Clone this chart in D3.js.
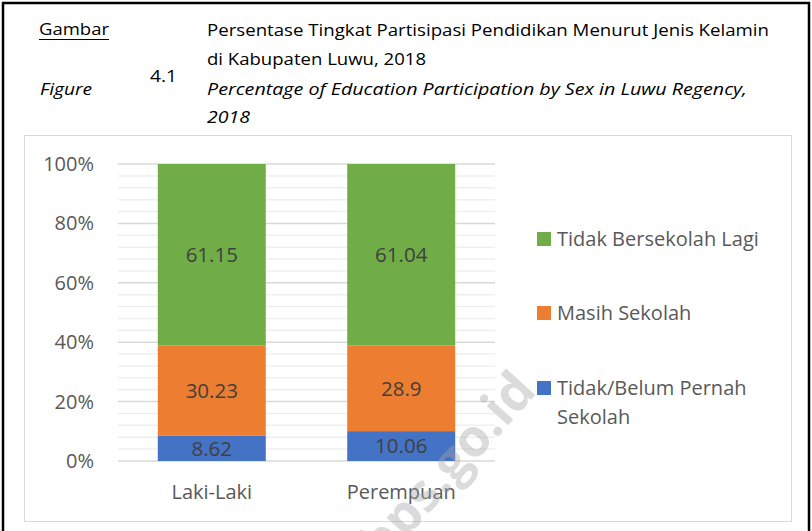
<!DOCTYPE html>
<html>
<head>
<meta charset="utf-8">
<script src="https://cdn.jsdelivr.net/npm/d3@7"></script>
<style>
  body { margin: 0; background: #fff; }
  svg { display: block; font-family: 'Open Sans', sans-serif; }
</style>
</head>
<body>
<div id="chart"></div>
<script>
var categories = ['Laki-Laki', 'Perempuan'];
var tidakPernah = [8.62, 10.06];
var masihSekolah = [30.23, 28.9];
var tidakLagi = [61.15, 61.04];
var yTicks = [0, 20, 40, 60, 80, 100];
var legendItems = [
  { key: 'tidakLagi', lines: ['Tidak Bersekolah Lagi'] },
  { key: 'masih', lines: ['Masih Sekolah'] },
  { key: 'pernah', lines: ['Tidak/Belum Pernah', 'Sekolah'] }
];

var colors = { pernah: '#4472C4', masih: '#ED7D31', tidakLagi: '#70AD47' };
var keys = ['pernah', 'masih', 'tidakLagi'];

var rows = categories.map(function(c, i) {
  return { cat: c, pernah: tidakPernah[i], masih: masihSekolah[i], tidakLagi: tidakLagi[i] };
});

var W = 812, H = 531;
var svg = d3.select('#chart').append('svg').attr('width', W).attr('height', H);

// outer frame and chart area box
svg.append('rect').attr('x', 3).attr('y', 3).attr('width', 806).attr('height', 560)
  .attr('fill', 'none').attr('stroke', '#000').attr('stroke-width', 2.5);
svg.append('rect').attr('x', 24.5).attr('y', 135.5).attr('width', 767).attr('height', 386)
  .attr('fill', 'none').attr('stroke', '#d9d9d9').attr('stroke-width', 1);

// header texts
function headText(str, x, y, w, italic) {
  var t = svg.append('text').attr('x', x).attr('y', y).text(str)
    .attr('font-size', 15.5).attr('fill', '#000')
    .attr('font-style', italic ? 'italic' : 'normal');
  if (w) t.attr('textLength', w).attr('lengthAdjust', 'spacingAndGlyphs');
  return t;
}
headText('Gambar', 39, 35, 70, false);
svg.append('line').attr('x1', 39).attr('x2', 109).attr('y1', 39.5).attr('y2', 39.5)
  .attr('stroke', '#000').attr('stroke-width', 1);
headText('Persentase Tingkat Partisipasi Pendidikan Menurut Jenis Kelamin', 207, 36, 562, false);
headText('di Kabupaten Luwu, 2018', 207, 65, 219, false);
headText('4.1', 150, 82, 27, false);
headText('Figure', 40, 95, 52, true);
headText('Percentage of Education Participation by Sex in Luwu Regency,', 207, 95, 540, true);
headText('2018', 207, 123, 43, true);

// scales
var x = d3.scaleBand().domain(categories).range([118, 495]).paddingInner(0.43).paddingOuter(0.21);
var y = d3.scaleLinear().domain([0, 100]).range([461, 164]);

// minor and major gridlines
var minor = d3.range(0, 101, 4).filter(function(v) { return v % 20 !== 0; });
svg.append('g').selectAll('line').data(minor).enter().append('line')
  .attr('x1', 118).attr('x2', 495).attr('y1', y).attr('y2', y)
  .attr('stroke', '#efefef').attr('stroke-width', 1.5);
svg.append('g').selectAll('line').data(yTicks).enter().append('line')
  .attr('x1', 118).attr('x2', 495).attr('y1', y).attr('y2', y)
  .attr('stroke', '#d9d9d9').attr('stroke-width', 1.5);

// y axis labels
var yAxis = d3.axisLeft(y).tickValues(yTicks).tickSize(0).tickPadding(0)
  .tickFormat(function(d) { return d + '%'; });
var ya = svg.append('g').attr('transform', 'translate(94,0)').call(yAxis);
ya.select('.domain').remove();
ya.selectAll('text').attr('font-family', 'Open Sans').attr('font-size', 20).attr('fill', '#595959');

// stacked bars
var stacked = d3.stack().keys(keys)(rows);
var layers = svg.append('g').selectAll('g').data(stacked).enter().append('g')
  .attr('fill', function(d) { return colors[d.key]; });
layers.selectAll('rect').data(function(d) { return d; }).enter().append('rect')
  .attr('x', function(d) { return x(d.data.cat); })
  .attr('width', x.bandwidth())
  .attr('y', function(d) { return y(d[1]); })
  .attr('height', function(d) { return y(d[0]) - y(d[1]); });

// value labels
layers.each(function(layer) {
  d3.select(this).selectAll('text').data(layer).enter().append('text')
    .attr('x', function(d) { return x(d.data.cat) + x.bandwidth() / 2; })
    .attr('y', function(d) { return (y(d[0]) + y(d[1])) / 2; })
    .attr('dy', '0.36em').attr('text-anchor', 'middle')
    .attr('font-size', 20.5).attr('fill', '#404040')
    .text(function(d) { return String(d.data[layer.key]); });
});

// x labels
var xAxis = d3.axisBottom(x).tickSize(0).tickPadding(0);
var xa = svg.append('g').attr('transform', 'translate(0,499)').call(xAxis);
xa.select('.domain').remove();
xa.selectAll('text').attr('dy', 0).attr('font-family', 'Open Sans').attr('font-size', 20).attr('fill', '#595959');

// legend
var legendY = [239, 313, 388];
var lg = svg.append('g').selectAll('g').data(legendItems).enter().append('g')
  .attr('transform', function(d, i) { return 'translate(537,' + legendY[i] + ')'; });
lg.append('rect').attr('x', 0).attr('y', -7).attr('width', 14).attr('height', 14)
  .attr('fill', function(d) { return colors[d.key]; });
lg.append('text').attr('x', 20).attr('font-size', 20).attr('fill', '#595959')
  .selectAll('tspan').data(function(d) { return d.lines; }).enter().append('tspan')
  .attr('x', 20).attr('y', function(d, i) { return i * 29; }).attr('dy', '0.36em')
  .text(function(d) { return d; });

// watermark
svg.append('text').attr('transform', 'translate(538,392) rotate(-48)')
  .attr('text-anchor', 'end').attr('font-size', 52).attr('font-weight', 'bold')
  .attr('fill', '#a6a6a6').attr('opacity', 0.4)
  .text('bps.go.id');
</script>
</body>
</html>
